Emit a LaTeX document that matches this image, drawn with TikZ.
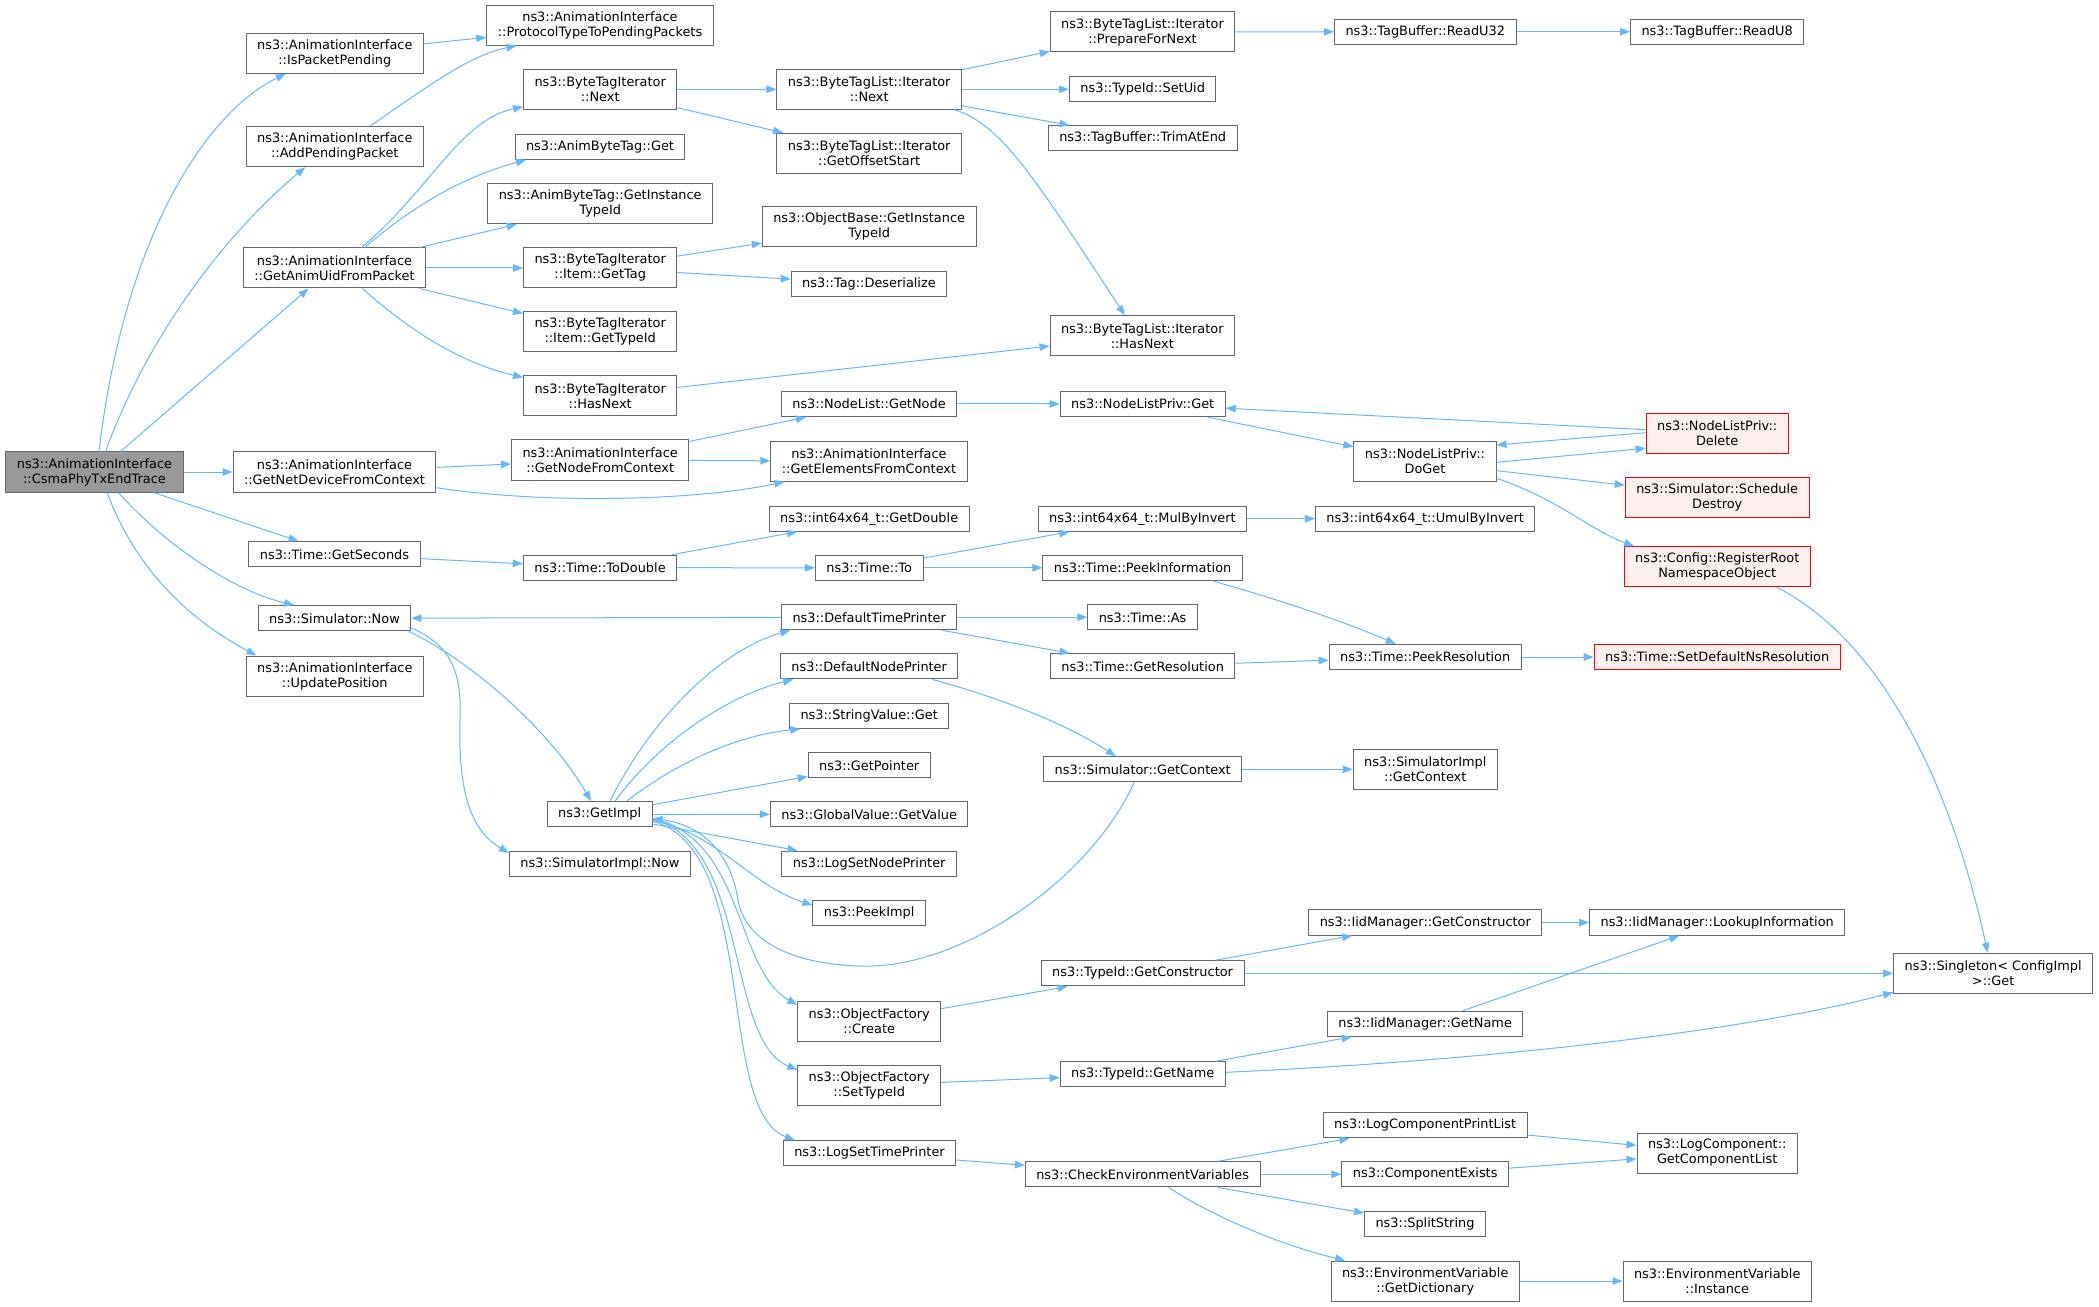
\documentclass[tikz,border=0pt]{standalone}
\usepackage{fontspec}
\setmainfont{DejaVu Sans}
\usepackage{tikz}
\usetikzlibrary{arrows.meta}
\definecolor{callblue}{HTML}{63B8FF}
\definecolor{boxline}{HTML}{666666}
\definecolor{rootfill}{HTML}{999999}
\definecolor{redfill}{HTML}{FFF0F0}
\newcommand{\fnfont}{\fontsize{12.9bp}{15bp}\selectfont}
\tikzset{
	fn/.style={draw=boxline,line width=1bp,fill=white,font=\fnfont,align=center,inner xsep=11bp,inner ysep=0pt,minimum height=25.3bp},
	fntwo/.style={fn,minimum height=40bp},
	fnroot/.style={fill=rootfill},
	fnred/.style={draw=red,fill=redfill},
	call/.style={draw=callblue,line width=1bp,-{Stealth[length=10bp,width=7.5bp,inset=0pt]}}
}

\begin{document}
\begin{tikzpicture}[x=1bp,y=-1bp]
	\useasboundingbox (0,0) rectangle (2099,1307);
	
	%boxes, first column
	\node[fntwo,fnroot] (csma) at (94.5,472) {ns3::AnimationInterface\\::CsmaPhyTxEndTrace};
	
	%second column
	\node[fntwo] (ispp)      at (334.8,53.3)  {ns3::AnimationInterface\\::IsPacketPending};
	\node[fntwo] (addpp)     at (334.8,146.7) {ns3::AnimationInterface\\::AddPendingPacket};
	\node[fntwo] (getanim)   at (334.5,268)   {ns3::AnimationInterface\\::GetAnimUidFromPacket};
	\node[fntwo] (getnetdev) at (334.5,472)   {ns3::AnimationInterface\\::GetNetDeviceFromContext};
	\node[fn]    (getsec)    at (334.5,554.3) {ns3::Time::GetSeconds};
	\node[fn]    (simnow)    at (334.5,618.3) {ns3::Simulator::Now};
	\node[fntwo] (updpos)    at (334.8,676)   {ns3::AnimationInterface\\::UpdatePosition};
	
	%third column
	\node[fntwo] (proto)      at (600,25.3)    {ns3::AnimationInterface\\::ProtocolTypeToPendingPackets};
	\node[fntwo] (btinext)    at (600.2,89.3)  {ns3::ByteTagIterator\\::Next};
	\node[fn]    (abtget)     at (600,146.7)   {ns3::AnimByteTag::Get};
	\node[fntwo] (abtgit)     at (600.2,203.8) {ns3::AnimByteTag::GetInstance\\TypeId};
	\node[fntwo] (btigettag)  at (600.2,268)   {ns3::ByteTagIterator\\::Item::GetTag};
	\node[fntwo] (btigettid)  at (600.2,332)   {ns3::ByteTagIterator\\::Item::GetTypeId};
	\node[fntwo] (btihasnext) at (600.2,396)   {ns3::ByteTagIterator\\::HasNext};
	\node[fntwo] (getnodefc)  at (600.2,460)   {ns3::AnimationInterface\\::GetNodeFromContext};
	\node[fn]    (todouble)   at (600,567.7)   {ns3::Time::ToDouble};
	\node[fn]    (getimpl)    at (599.7,814.3) {ns3::GetImpl};
	\node[fn]    (simimplnow) at (599.9,864)   {ns3::SimulatorImpl::Now};
	
	%fourth column
	\node[fntwo] (btlnext)   at (869.2,89.3)   {ns3::ByteTagList::Iterator\\::Next};
	\node[fntwo] (btloffs)   at (869.2,153.3)  {ns3::ByteTagList::Iterator\\::GetOffsetStart};
	\node[fntwo] (obgit)     at (869.2,226.7)  {ns3::ObjectBase::GetInstance\\TypeId};
	\node[fn]    (tagdeser)  at (869,283.7)    {ns3::Tag::Deserialize};
	\node[fn]    (getnode)   at (869,404)      {ns3::NodeList::GetNode};
	\node[fntwo] (getelem)   at (869,461.3)    {ns3::AnimationInterface\\::GetElementsFromContext};
	\node[fn]    (getdouble) at (869.2,518.7)  {ns3::int64x64\_t::GetDouble};
	\node[fn]    (timeto)    at (869.2,567.8)  {ns3::Time::To};
	\node[fn]    (deftp)     at (869.2,617.2)  {ns3::DefaultTimePrinter};
	\node[fn]    (defnp)     at (869.2,666.3)  {ns3::DefaultNodePrinter};
	\node[fn]    (strget)    at (869.2,715.8)  {ns3::StringValue::Get};
	\node[fn]    (getptr)    at (869.2,765.3)  {ns3::GetPointer};
	\node[fn]    (globget)   at (869.2,814.3)  {ns3::GlobalValue::GetValue};
	\node[fn]    (logsnp)    at (869.2,863.7)  {ns3::LogSetNodePrinter};
	\node[fn]    (peekimpl)  at (869.2,913.3)  {ns3::PeekImpl};
	\node[fntwo] (ofcreate)  at (869.2,1021.3) {ns3::ObjectFactory\\::Create};
	\node[fntwo] (ofsettid)  at (869.2,1085.3) {ns3::ObjectFactory\\::SetTypeId};
	\node[fn]    (logstp)    at (869.5,1153.3) {ns3::LogSetTimePrinter};
	
	%fifth column
	\node[fntwo] (btlprep)    at (1142.5,32)     {ns3::ByteTagList::Iterator\\::PrepareForNext};
	\node[fn]    (setuid)     at (1142.7,89.3)   {ns3::TypeId::SetUid};
	\node[fn]    (trim)       at (1142.7,138.3)  {ns3::TagBuffer::TrimAtEnd};
	\node[fntwo] (btlhasnext) at (1142.3,335.8)  {ns3::ByteTagList::Iterator\\::HasNext};
	\node[fn]    (nlpget)     at (1142.7,404)    {ns3::NodeListPriv::Get};
	\node[fn]    (mulbyinv)   at (1142.4,518.7)  {ns3::int64x64\_t::MulByInvert};
	\node[fn]    (peekinfo)   at (1142.6,567.8)  {ns3::Time::PeekInformation};
	\node[fn]    (timeas)     at (1142.6,617.2)  {ns3::Time::As};
	\node[fn]    (getres)     at (1142.7,666.3)  {ns3::Time::GetResolution};
	\node[fn]    (simgetctx)  at (1142.7,769.3)  {ns3::Simulator::GetContext};
	\node[fn]    (getctor)    at (1142.6,973.3)  {ns3::TypeId::GetConstructor};
	\node[fn]    (tidgetname) at (1142.7,1074.3) {ns3::TypeId::GetName};
	\node[fn]    (checkenv)   at (1142.7,1174.3) {ns3::CheckEnvironmentVariables};
	
	%sixth column
	\node[fn]    (readu32)       at (1425.3,31.7)   {ns3::TagBuffer::ReadU32};
	\node[fntwo] (doget)         at (1425,461.3)    {ns3::NodeListPriv::\\DoGet};
	\node[fn]    (umulbyinv)     at (1425.2,518.7)  {ns3::int64x64\_t::UmulByInvert};
	\node[fn]    (peekres)       at (1425.2,657)    {ns3::Time::PeekResolution};
	\node[fntwo] (simimplgetctx) at (1425.3,769.3)  {ns3::SimulatorImpl\\::GetContext};
	\node[fn]    (iidgetctor)    at (1425.3,922.5)  {ns3::IidManager::GetConstructor};
	\node[fn]    (iidgetname)    at (1425.2,1023.7) {ns3::IidManager::GetName};
	\node[fn]    (logcpl)        at (1425.2,1125.3) {ns3::LogComponentPrintList};
	\node[fn]    (compexists)    at (1425.2,1174.3) {ns3::ComponentExists};
	\node[fn]    (splitstr)      at (1425,1223.7)   {ns3::SplitString};
	\node[fntwo] (getdict)       at (1425.2,1281)   {ns3::EnvironmentVariable\\::GetDictionary};
	
	%seventh column
	\node[fn]          (readu8)   at (1717.2,31.7)  {ns3::TagBuffer::ReadU8};
	\node[fntwo,fnred] (delete)   at (1717.2,433.3) {ns3::NodeListPriv::\\Delete};
	\node[fntwo,fnred] (schdes)   at (1717.2,497.2) {ns3::Simulator::Schedule\\Destroy};
	\node[fntwo,fnred] (regroot)  at (1717.2,566.7) {ns3::Config::RegisterRoot\\NamespaceObject};
	\node[fn,fnred]    (setdefns) at (1717.2,657)   {ns3::Time::SetDefaultNsResolution};
	\node[fn]          (lookup)   at (1717.2,922.5) {ns3::IidManager::LookupInformation};
	\node[fntwo]       (getcl)    at (1717.2,1153)  {ns3::LogComponent::\\GetComponentList};
	\node[fntwo]       (envinst)  at (1717.2,1281)  {ns3::EnvironmentVariable\\::Instance};
	
	%last column
	\node[fntwo] (singleton) at (1993.2,973.3) {ns3::Singleton< ConfigImpl\\>::Get};
	
	%calls from the root
	\draw[call] ([xshift=4.5bp]csma.north) .. controls (125,230) and (210,110) .. ([xshift=-49bp]ispp.south);
	\draw[call] ([xshift=11bp]csma.north) .. controls (150,330) and (230,230) .. ([xshift=-29.5bp]addpp.south);
	\draw[call] ([xshift=26bp]csma.north) -- ([xshift=-26bp]getanim.south);
	\draw[call] (csma) -- (getnetdev);
	\draw[call] ([xshift=59bp]csma.south) -- ([xshift=-36bp]getsec.north);
	\draw[call] ([xshift=24bp]csma.south) .. controls (160,540) and (230,590) .. ([xshift=-40.5bp]simnow.north);
	\draw[call] ([xshift=12.5bp]csma.south) .. controls (140,580) and (200,625) .. ([xshift=-78.5bp]updpos.north);
	
	%byte tags
	\draw[call] (ispp) -- (proto);
	\draw[call] ([xshift=35bp]addpp.north) .. controls (430,85) and (470,55) .. ([xshift=-83.5bp]proto.south);
	\draw[call] ([xshift=27bp]getanim.north) .. controls (430,190) and (460,120) .. ([yshift=3bp]btinext.south west);
	\draw[call] ([xshift=30bp]getanim.north) .. controls (420,200) and (470,175) .. ([xshift=-74bp]abtget.south);
	\draw[call] ([xshift=85bp]getanim.north) -- ([xshift=-83.5bp]abtgit.south);
	\draw[call] (getanim) -- (btigettag);
	\draw[call] (getanim) -- (btigettid);
	\draw[call] ([xshift=28bp]getanim.south) .. controls (420,340) and (470,365) .. ([yshift=-2bp]btihasnext.north west);
	\draw[call] (btinext) -- (btlnext);
	\draw[call] (btinext) -- (btloffs);
	\draw[call] (btlnext) -- (btlprep);
	\draw[call] (btlnext) -- (setuid);
	\draw[call] (btlnext) -- (trim);
	\draw[call] ([xshift=86bp]btlnext.south) .. controls (1000,125) and (1030,170) .. ([xshift=-17.5bp]btlhasnext.north);
	\draw[call] (btlprep) -- (readu32);
	\draw[call] (readu32) -- (readu8);
	\draw[call] (btigettag) -- (obgit);
	\draw[call] (btigettag) -- (tagdeser);
	\draw[call] (btihasnext) -- (btlhasnext);
	
	%nodes from context
	\draw[call] (getnetdev) -- (getnodefc);
	\draw[call] ([yshift=-15.7bp]getnetdev.east) .. controls (550,505) and (700,500) .. ([xshift=14bp]getelem.south west);
	\draw[call] (getnodefc) -- (getelem);
	\draw[call] (getnodefc) -- (getnode);
	\draw[call] (getnode) -- (nlpget);
	\draw[call] (nlpget) -- (doget);
	\draw[call] (delete) -- (nlpget);
	\draw[call] ([yshift=0.6bp]delete.west) -- ([yshift=16.3bp]doget.east);
	\draw[call] ([yshift=-1bp]doget.east) -- ([yshift=-15bp]delete.west);
	\draw[call] ([yshift=-9.4bp]doget.east) -- ([yshift=12bp]schdes.west);
	\draw[call] ([yshift=-17bp]doget.east) .. controls (1560,500) and (1590,530) .. ([xshift=-83bp]regroot.north);
	\draw[call] ([xshift=59.5bp]regroot.south) .. controls (1880,640) and (1950,780) .. ([xshift=-5.5bp]singleton.north);
	
	%time
	\draw[call] (getsec) -- (todouble);
	\draw[call] (todouble) -- (getdouble);
	\draw[call] (todouble) -- (timeto);
	\draw[call] (timeto) -- (mulbyinv);
	\draw[call] (timeto) -- (peekinfo);
	\draw[call] (mulbyinv) -- (umulbyinv);
	\draw[call] ([xshift=70bp]peekinfo.south) .. controls (1280,600) and (1340,620) .. ([xshift=-29.5bp]peekres.north);
	\draw[call] (deftp) -- (simnow);
	\draw[call] (deftp) -- (timeas);
	\draw[call] (deftp) -- (getres);
	\draw[call] (getres) -- (peekres);
	\draw[call] (peekres) -- (setdefns);
	\draw[call] ([xshift=63bp]defnp.south) .. controls (990,695) and (1060,720) .. ([xshift=-27bp]simgetctx.north);
	\draw[call] (simgetctx) -- (simimplgetctx);
	\draw[call] ([xshift=-8.5bp]simgetctx.south) .. controls (1090,880) and (960,970) .. (860,966)
		.. controls (790,964) and (745,940) .. (738,900) .. controls (730,850) and (700,825) .. ([yshift=-4bp]getimpl.east);
	
	%simulator
	\draw[call] ([xshift=74bp]simnow.south) .. controls (470,660) and (550,730) .. ([xshift=-8.7bp]getimpl.north);
	\draw[call] ([yshift=-9.7bp]simnow.east) .. controls (450,645) and (462,670) .. (460,720)
		.. controls (458,790) and (470,830) .. ([yshift=-2bp]simimplnow.north west);
	\draw[call] ([xshift=10.3bp]getimpl.north) .. controls (650,720) and (720,650) .. ([xshift=-79bp]deftp.south);
	\draw[call] ([xshift=15.3bp]getimpl.north) .. controls (660,740) and (730,695) .. ([xshift=-76bp]defnp.south);
	\draw[call] ([xshift=27bp]getimpl.north) .. controls (680,760) and (740,735) .. ([xshift=-69bp]strget.south);
	\draw[call] (getimpl) -- (getptr);
	\draw[call] (getimpl) -- (globget);
	\draw[call] (getimpl) -- (logsnp);
	\draw[call] ([yshift=-6bp]getimpl.east) .. controls (720,835) and (750,885) .. ([yshift=-5bp]peekimpl.north west);
	\draw[call] ([yshift=-4bp]getimpl.east) .. controls (745,840) and (735,970) .. ([yshift=-4bp]ofcreate.north west);
	\draw[call] ([yshift=-5bp]getimpl.east) .. controls (750,845) and (725,1040) .. ([yshift=-5bp]ofsettid.north west);
	\draw[call] ([yshift=-7bp]getimpl.east) .. controls (760,850) and (715,1110) .. ([xshift=12bp]logstp.north west);
	
	%type ids and logging
	\draw[call] (ofcreate) -- (getctor);
	\draw[call] (getctor) -- (iidgetctor);
	\draw[call] (getctor) -- (singleton);
	\draw[call] (iidgetctor) -- (lookup);
	\draw[call] (ofsettid) -- (tidgetname);
	\draw[call] (tidgetname) -- (iidgetname);
	\draw[call] ([yshift=2bp]tidgetname.east) .. controls (1500,1060) and (1750,1030) .. ([yshift=1.5bp]singleton.south west);
	\draw[call] (iidgetname) -- (lookup);
	\draw[call] (logstp) -- (checkenv);
	\draw[call] (checkenv) -- (logcpl);
	\draw[call] (checkenv) -- (compexists);
	\draw[call] (checkenv) -- (splitstr);
	\draw[call] ([xshift=26bp]checkenv.south) .. controls (1210,1215) and (1280,1245) .. ([xshift=-80bp]getdict.north);
	\draw[call] (logcpl) -- (getcl);
	\draw[call] (compexists) -- (getcl);
	\draw[call] (getdict) -- (envinst);
\end{tikzpicture}
\end{document}
